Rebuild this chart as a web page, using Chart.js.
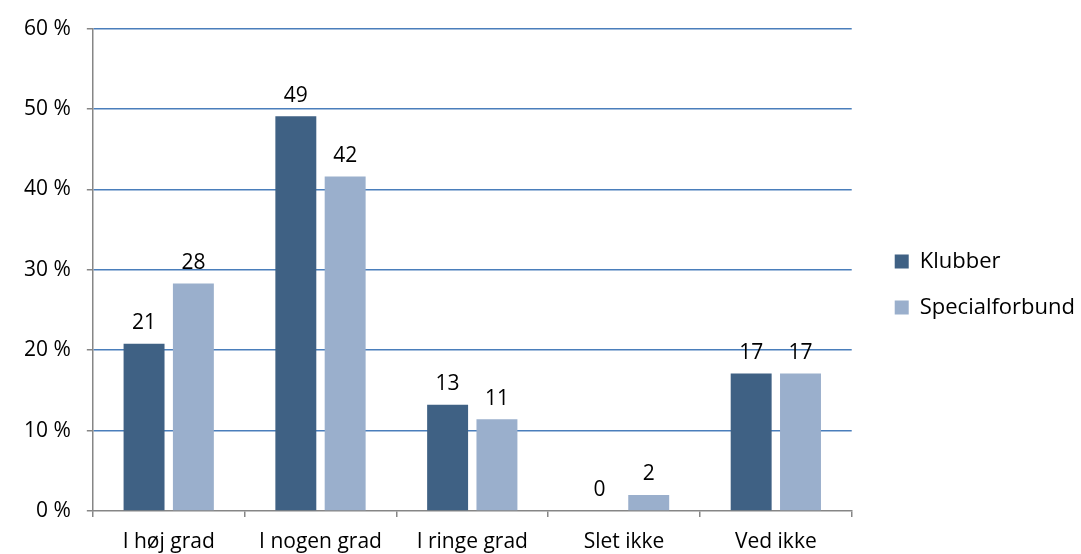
<!DOCTYPE html>
<html>
<head>
<meta charset="utf-8">
<script src="https://cdn.jsdelivr.net/npm/chart.js@4/dist/chart.umd.min.js"></script>
<style>
html,body{margin:0;padding:0;background:#fff;}
canvas{display:block;}
</style>
</head>
<body>
<canvas id="c" width="1081" height="554"></canvas>
<script>
const categories = ["I høj grad", "I nogen grad", "I ringe grad", "Slet ikke", "Ved ikke"];
const klubber = [20.8, 49.1, 13.2, 0, 17.1];
const specialforbund = [28.3, 41.6, 11.4, 2.0, 17.1];
const seriesNames = ["Klubber", "Specialforbund"];
const yTicks = [0, 10, 20, 30, 40, 50, 60];

const FONT = "'Open Sans', Lato, sans-serif";
const FS = 21;

const valueLabels = {
  id: 'valueLabels',
  afterDatasetsDraw(chart) {
    const ctx = chart.ctx;
    ctx.save();
    ctx.font = FS + "px " + FONT;
    ctx.fillStyle = "#000";
    ctx.textAlign = "center";
    ctx.textBaseline = "bottom";
    chart.data.datasets.forEach((ds, i) => {
      chart.getDatasetMeta(i).data.forEach((bar, j) => {
        ctx.fillText(Math.round(ds.data[j]).toString(), bar.x, bar.y - 10);
      });
    });
    ctx.restore();
  }
};

// shift the legend a little to the right of / below its default spot, as in the original
const legendShift = {
  id: 'legendShift',
  afterLayout(chart) {
    const lg = chart.legend;
    if (lg) { lg.left += 19; lg.right += 19; lg.top += 4; lg.bottom += 4; }
  }
};

new Chart(document.getElementById('c'), {
  type: 'bar',
  data: {
    labels: categories,
    datasets: [
      { label: seriesNames[0], data: klubber, backgroundColor: '#3F6184', borderWidth: 0,
        categoryPercentage: 0.65, barPercentage: 0.83 },
      { label: seriesNames[1], data: specialforbund, backgroundColor: '#9AAFCC', borderWidth: 0,
        categoryPercentage: 0.65, barPercentage: 0.83 }
    ]
  },
  options: {
    responsive: false,
    animation: false,
    layout: { padding: { left: 8, top: 7, right: 15, bottom: 0 } },
    plugins: {
      tooltip: { enabled: false },
      legend: {
        position: 'right',
        labels: {
          font: { family: FONT, size: 22 },
          color: '#000',
          boxWidth: 14, boxHeight: 14,
          padding: 24
        }
      }
    },
    scales: {
      x: {
        afterFit(scale) { scale.height = 43; },
        ticks: { font: { family: FONT, size: FS, lineHeight: 1 }, color: '#000', padding: 15 },
        grid: { offset: true, drawOnChartArea: false, drawTicks: true, tickLength: 6, tickColor: '#868686', lineWidth: 1.5 },
        border: { color: '#868686', width: 1.5 }
      },
      y: {
        min: 0, max: 60,
        afterBuildTicks(axis) { axis.ticks = yTicks.map(v => ({ value: v })); },
        ticks: { font: { family: FONT, size: FS }, color: '#000', padding: 16, callback: v => v + ' %' },
        grid: {
          color: ctx => ctx.tick && ctx.tick.value === 0 ? 'rgba(0,0,0,0)' : '#4A7EBB',
          lineWidth: 1.5, tickLength: 6, tickColor: '#868686'
        },
        border: { color: '#868686', width: 1.5 }
      }
    }
  },
  plugins: [valueLabels, legendShift]
});
</script>
</body>
</html>
